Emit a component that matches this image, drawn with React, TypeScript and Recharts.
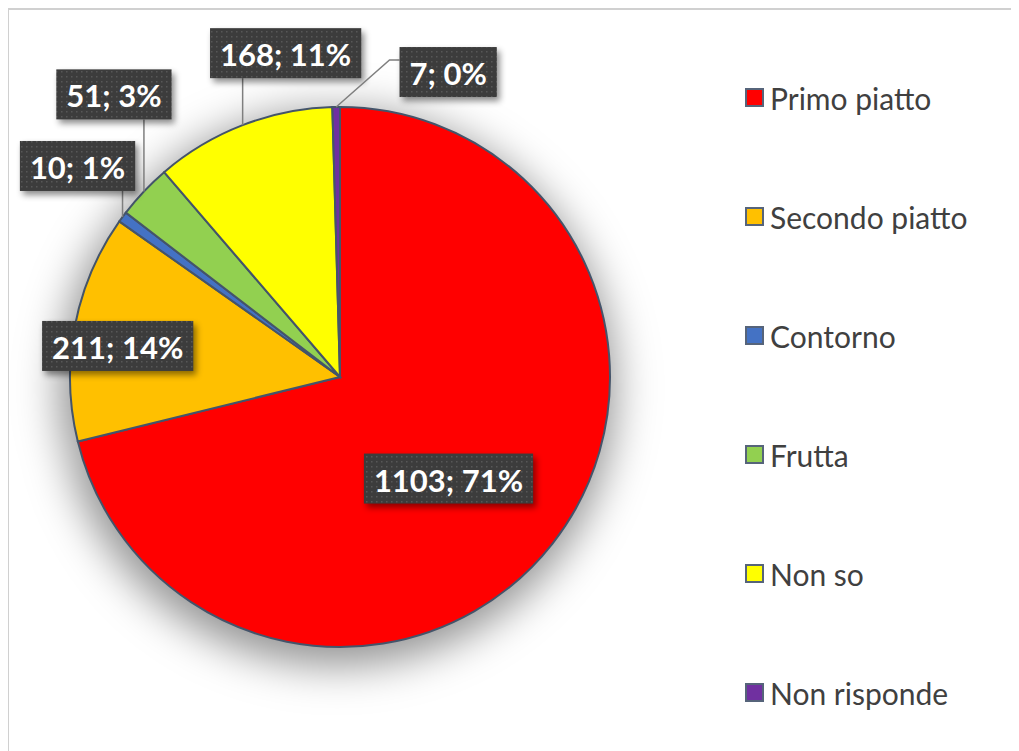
import { PieChart, Pie, Cell, Legend } from 'recharts';

const categories = ['Primo piatto', 'Secondo piatto', 'Contorno', 'Frutta', 'Non so', 'Non risponde'];
const counts = [1103, 211, 10, 51, 168, 7];
const colors = ['#FF0000', '#FFC000', '#4472C4', '#92D050', '#FFFF00', '#7030A0'];

const chartData = categories.map((name, i) => ({ name, value: counts[i] }));

// where each data label sits, relative to the slice's outer edge at its mid angle
const labelLayout = [
  { dx: -104, dy: -65, leader: 'none' },
  { dx: 43, dy: 19, leader: 'none' },
  { dx: -45, dy: -51, leader: 'up' },
  { dx: -30, dy: -97, leader: 'up' },
  { dx: 43, dy: -72, leader: 'up' },
  { dx: 112, dy: -35, leader: 'elbow' },
];

const RAD = Math.PI / 180;
const BOX_H = 50;
const LABEL_FONT = 'bold 31px Lato';

let ctx: CanvasRenderingContext2D | null = null;
const measure = (s: string) => {
  if (!ctx) ctx = document.createElement('canvas').getContext('2d');
  if (!ctx) return s.length * 16;
  ctx.font = LABEL_FONT;
  return ctx.measureText(s).width;
};

const renderLabel = (props: any) => {
  const { cx, cy, midAngle, outerRadius, index, value, percent } = props;
  const ex = cx + outerRadius * Math.cos(-midAngle * RAD);
  const ey = cy + outerRadius * Math.sin(-midAngle * RAD);
  const lay = labelLayout[index];
  const bx = ex + lay.dx;
  const by = ey + lay.dy;
  const text = `${value}; ${Math.round(percent * 100)}%`;
  const w = measure(text) + 20;
  const left = bx - w / 2;
  const top = by - BOX_H / 2;

  let leader = null;
  if (lay.leader === 'up') {
    leader = <polyline points={`${ex},${ey} ${ex},${top + BOX_H}`} fill="none" stroke="#7f7f7f" strokeWidth={1.5} />;
  } else if (lay.leader === 'elbow') {
    leader = (
      <polyline
        points={`${ex},${ey} ${left - 10},${top + 13} ${left},${top + 13}`}
        fill="none"
        stroke="#7f7f7f"
        strokeWidth={1.5}
      />
    );
  }

  return (
    <g key={`lbl-${index}`}>
      {leader}
      <rect x={left} y={top} width={w} height={BOX_H} fill="url(#dotGrid)" style={{ filter: 'drop-shadow(3px 4px 3px rgba(0,0,0,0.45))' }} />
      <text
        x={bx}
        y={by + 1}
        textAnchor="middle"
        dominantBaseline="central"
        fill="#ffffff"
        style={{ font: LABEL_FONT }}
      >
        {text}
      </text>
    </g>
  );
};

// legend kept in data order (Excel order), not alphabetical
const renderLegend = () => (
  <div style={{ fontFamily: 'Lato', fontSize: 30, color: '#404040', whiteSpace: 'nowrap' }}>
    {categories.map((name, i) => (
      <div key={name} style={{ height: 119, display: 'flex', alignItems: 'center' }}>
        <span
          style={{
            display: 'inline-block',
            width: 19,
            height: 19,
            boxSizing: 'border-box',
            border: '2px solid #56647a',
            background: colors[i],
            marginRight: 6,
          }}
        />
        <span>{name}</span>
      </div>
    ))}
  </div>
);

// a grey copy of the pie under the real one gives the soft halo
const shadowCss = '.pie-shadow{filter:blur(15px);}';

export default function App() {
  return (
    <div
      style={{
        position: 'relative',
        marginLeft: -1,
        width: 1012,
        height: 743,
        boxSizing: 'border-box',
        borderTop: '2px solid #d0d0d0',
        borderLeft: '2px solid #d0d0d0',
      }}
    >
      <style>{shadowCss}</style>
      <div style={{ position: 'absolute', left: -9, top: -10 }}>
        <PieChart width={1019} height={751} margin={{ top: 0, right: 0, bottom: 0, left: 0 }}>
          <defs>
            <pattern id="dotGrid" width={5} height={5} patternUnits="userSpaceOnUse">
              <rect width={5} height={5} fill="#3c3c3c" />
              <rect x={1} y={1} width={1.5} height={1.5} fill="#575757" />
            </pattern>
          </defs>
          <Pie
            className="pie-shadow"
            data={chartData}
            dataKey="value"
            nameKey="name"
            cx={337}
            cy={388}
            outerRadius={278}
            startAngle={90}
            endAngle={-270}
            fill="#000000"
            fillOpacity={0.42}
            stroke="none"
            legendType="none"
            tooltipType="none"
            isAnimationActive={false}
          />
          <Pie
            data={chartData}
            dataKey="value"
            nameKey="name"
            cx={340}
            cy={377}
            outerRadius={270}
            startAngle={90}
            endAngle={-270}
            stroke="#44546a"
            strokeWidth={2}
            label={renderLabel}
            labelLine={false}
            isAnimationActive={false}
          >
            {chartData.map((d, i) => (
              <Cell key={d.name} fill={colors[i]} />
            ))}
          </Pie>
          <Legend
            layout="vertical"
            verticalAlign="top"
            align="right"
            content={renderLegend}
            wrapperStyle={{ left: 745, top: 38, width: 270, right: 'auto', bottom: 'auto' }}
          />
        </PieChart>
      </div>
    </div>
  );
}
